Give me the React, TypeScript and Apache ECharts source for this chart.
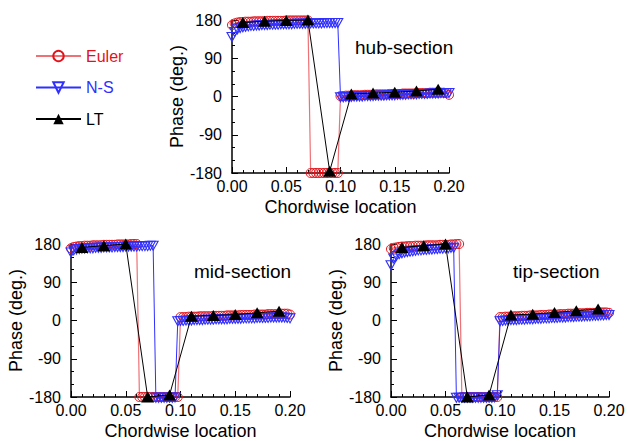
import React, { useEffect, useRef } from 'react';
import * as echarts from 'echarts';

// Shared chordwise stations of the dense Euler / N-S data
const xDense = [
  0, 0.0025, 0.005, 0.0075, 0.01, 0.0125, 0.015, 0.0175, 0.02, 0.0225,
  0.025, 0.0275, 0.03, 0.0325, 0.035, 0.0375, 0.04, 0.0425, 0.045, 0.0475,
  0.05, 0.0525, 0.055, 0.0575, 0.06, 0.0625, 0.065, 0.0675, 0.07, 0.0725,
  0.075, 0.0775, 0.08, 0.0825, 0.085, 0.0875, 0.09, 0.0925, 0.095, 0.0975,
  0.1, 0.1025, 0.105, 0.1075, 0.11, 0.1125, 0.115, 0.1175, 0.12, 0.1225,
  0.125, 0.1275, 0.13, 0.1325, 0.135, 0.1375, 0.14, 0.1425, 0.145, 0.1475,
  0.15, 0.1525, 0.155, 0.1575, 0.16, 0.1625, 0.165, 0.1675, 0.17, 0.1725,
  0.175, 0.1775, 0.18, 0.1825, 0.185, 0.1875, 0.19, 0.1925, 0.195, 0.1975,
  0.2,
];
const xLT = [0.01, 0.03, 0.05, 0.07, 0.09, 0.11, 0.13, 0.15, 0.17, 0.19];

const yTicks = [-180, -90, 0, 90, 180];
const xTicks = [0, 0.05, 0.1, 0.15, 0.2];

// hub-section
const hubEuler = [
  168, 172, 174, 175, 175, 176, 176, 176, 177, 177,
  177, 177, 177, 178, 178, 178, 178, 178, 178, 178,
  179, 179, 179, 179, 179, 179, 179, 179, 179,
  -180, -180, -180, -180, -180, -180, -180, -180, -180, -180, -180,
  1, 1, 2, 2, 2, 3, 3, 3, 3, 4,
  4, 4, 4, 5, 5, 5, 5, 5, 6, 6,
  6, 6, 6, 7, 7, 7, 7, 7, 8, 8,
  8, 8, 8, 9, 9, 9, 9, 9, 9, 8,
  4,
];
const hubNS = [
  140, 152, 158, 161, 163, 164, 165, 166, 166, 167,
  167, 168, 168, 168, 169, 169, 169, 169, 170, 170,
  170, 170, 170, 171, 171, 171, 171, 171, 172, 172,
  172, 172, 172, 172, 173, 173, 173, 173, 173, 173,
  -2, -2, -1, -1, -1, 0, 0, 0, 0, 1,
  1, 1, 1, 2, 2, 2, 2, 3, 3, 3,
  3, 4, 4, 4, 4, 5, 5, 5, 5, 6,
  6, 6, 6, 7, 7, 7, 7, 8, 8, 8,
  8,
];
const hubLT = [174, 177, 179, 180, -176, 6, 8, 10, 13, 17];

// mid-section
const midEuler = [
  170, 173, 174, 175, 175, 176, 176, 176, 177, 177,
  177, 177, 178, 178, 178, 178, 178, 179, 179, 179,
  179, 179, 180, 180, 180,
  -180, -180, -180, -180, -180, -180, -180, -180, -180, -180,
  -180, -180, -180, -180, -180,
  8, 8, 8, 9, 9, 9, 9, 10, 10, 10,
  10, 10, 11, 11, 11, 11, 11, 12, 12, 12,
  12, 12, 13, 13, 13, 13, 13, 14, 14, 14,
  14, 14, 15, 15, 15, 15, 15, 16, 16, 16,
  14,
];
const midNS = [
  160, 165, 167, 168, 169, 169, 170, 170, 170, 171,
  171, 171, 172, 172, 172, 172, 173, 173, 173, 173,
  174, 174, 174, 174, 174, 175, 175, 175, 175, 176,
  176,
  -182, -182, -182, -182, -182, -182, -182, -181,
  -2, -1, -1, 0, 0, 0, 1, 1, 1, 1,
  2, 2, 2, 2, 3, 3, 3, 3, 3, 4,
  4, 4, 4, 4, 5, 5, 5, 5, 5, 6,
  6, 6, 6, 6, 7, 7, 7, 7, 7, 7,
  6, 5,
];
const midLT = [172, 176, 180, -180, -175, 10, 12, 14, 18, 22];

// tip-section
const tipEuler = [
  168, 171, 172, 173, 174, 174, 175, 175, 175, 176,
  176, 176, 176, 177, 177, 177, 177, 177, 178, 178,
  178, 178, 179, 179, 180, 180,
  -180, -180, -180, -180, -180, -180, -180, -180, -180, -180,
  -180, -180, -180, -180,
  8, 8, 9, 9, 9, 10, 10, 10, 11, 11,
  11, 12, 12, 12, 12, 13, 13, 13, 14, 14,
  14, 14, 15, 15, 15, 16, 16, 16, 16, 17,
  17, 17, 18, 18, 18, 18, 19, 19, 19, 19,
  18,
];
const tipNS = [
  130, 146, 152, 156, 158, 160, 161, 162, 163, 164,
  165, 165, 166, 166, 167, 167, 168, 168, 169, 169,
  170, 170, 171, 171,
  -182, -182, -182, -182, -182, -182, -182, -182, -182, -182,
  -182, -182, -182, -182, -181, -176,
  -2, -1, 0, 0, 1, 1, 1, 2, 2, 2,
  3, 3, 3, 4, 4, 4, 5, 5, 5, 6,
  6, 6, 7, 7, 7, 8, 8, 8, 9, 9,
  9, 10, 10, 10, 11, 11, 11, 12, 12, 13,
  13,
];
const tipLT = [172, 176, 180, -180, -175, 13, 15, 19, 23, 27];

const sections = [
  { name: 'hub-section', euler: hubEuler, ns: hubNS, lt: hubLT },
  { name: 'mid-section', euler: midEuler, ns: midNS, lt: midLT },
  { name: 'tip-section', euler: tipEuler, ns: tipNS, lt: tipLT },
];

const FONT = 'Liberation Sans, Arial, Helvetica, sans-serif';
const RED = '#e3121a';
const RED_LINE = 'rgba(227,18,26,0.6)';
const BLUE = '#2f2fff';
const BLACK = '#000000';

const grids = [
  { left: 232, top: 20, width: 217, height: 153 },
  { left: 71, top: 244, width: 219, height: 153 },
  { left: 391, top: 244, width: 218, height: 153 },
];
const labelPos = [
  { x: 355, y: 38 },
  { x: 194, y: 262 },
  { x: 513, y: 262 },
];

function buildOption() {
  const xAxis = grids.map((_, i) => ({
    type: 'value',
    gridIndex: i,
    min: xTicks[0],
    max: xTicks[xTicks.length - 1],
    interval: 0.05,
    name: 'Chordwise location',
    nameLocation: 'middle',
    nameGap: 25,
    nameTextStyle: { fontSize: 18, color: BLACK, fontFamily: FONT },
    axisLine: { show: true, onZero: false, lineStyle: { color: BLACK, width: 1.5 } },
    axisTick: { show: true, inside: true, length: 6, lineStyle: { color: BLACK } },
    minorTick: { show: true, splitNumber: 5, length: 3, lineStyle: { color: BLACK } },
    splitLine: { show: false },
    axisLabel: {
      fontSize: 16,
      color: BLACK,
      fontFamily: FONT,
      margin: 5,
      formatter: (v: number) => v.toFixed(2),
    },
  }));
  const yAxis = grids.map((_, i) => ({
    type: 'value',
    gridIndex: i,
    min: yTicks[0],
    max: yTicks[yTicks.length - 1],
    interval: 90,
    name: 'Phase (deg.)',
    nameLocation: 'middle',
    nameGap: 44,
    nameTextStyle: { fontSize: 18, color: BLACK, fontFamily: FONT },
    axisLine: { show: true, onZero: false, lineStyle: { color: BLACK, width: 1.5 } },
    axisTick: { show: true, inside: true, length: 6, lineStyle: { color: BLACK } },
    minorTick: { show: true, splitNumber: 3, length: 3, lineStyle: { color: BLACK } },
    splitLine: { show: false },
    axisLabel: { fontSize: 16, color: BLACK, fontFamily: FONT, margin: 10 },
  }));

  const series: any[] = [];
  sections.forEach((s, i) => {
    series.push({
      name: 'Euler',
      type: 'line',
      xAxisIndex: i,
      yAxisIndex: i,
      clip: false,
      data: xDense.map((x, k) => [x, s.euler[k]]),
      symbol: 'circle',
      symbolSize: 9,
      showAllSymbol: true,
      lineStyle: { color: RED_LINE, width: 1.2 },
      itemStyle: { color: 'rgba(0,0,0,0)', borderColor: RED, borderWidth: 1 },
      emphasis: { disabled: true },
      z: 2,
    });
    series.push({
      name: 'N-S',
      type: 'line',
      xAxisIndex: i,
      yAxisIndex: i,
      clip: false,
      data: xDense.map((x, k) => [x, s.ns[k]]),
      symbol: 'triangle',
      symbolRotate: 180,
      symbolSize: [10, 9],
      showAllSymbol: true,
      lineStyle: { color: BLUE, width: 1 },
      itemStyle: { color: 'rgba(0,0,0,0)', borderColor: BLUE, borderWidth: 1.1 },
      emphasis: { disabled: true },
      z: 3,
    });
    series.push({
      name: 'LT',
      type: 'line',
      xAxisIndex: i,
      yAxisIndex: i,
      clip: false,
      data: xLT.map((x, k) => [x, s.lt[k]]),
      symbol: 'triangle',
      symbolSize: [13, 11],
      showAllSymbol: true,
      lineStyle: { color: BLACK, width: 1 },
      itemStyle: { color: BLACK, borderColor: BLACK, borderWidth: 0 },
      emphasis: { disabled: true },
      z: 4,
    });
  });

  return {
    animation: false,
    backgroundColor: '#ffffff',
    textStyle: { fontFamily: FONT },
    legend: {
      orient: 'vertical',
      left: 35,
      top: 48,
      padding: 0,
      itemWidth: 45,
      itemHeight: 13,
      itemGap: 15.5,
      textStyle: { fontSize: 16, fontFamily: FONT },
      data: [
        { name: 'Euler', textStyle: { color: RED } },
        { name: 'N-S', textStyle: { color: BLUE } },
        { name: 'LT', textStyle: { color: BLACK } },
      ],
    },
    grid: grids.map((g) => ({ ...g, containLabel: false })),
    xAxis,
    yAxis,
    series,
    graphic: sections.map((s, i) => ({
      type: 'text',
      left: labelPos[i].x,
      top: labelPos[i].y,
      style: { text: s.name, fontSize: 19, fill: BLACK, fontFamily: FONT },
    })),
  };
}

export default function App() {
  const ref = useRef<HTMLDivElement>(null);
  useEffect(() => {
    if (!ref.current) return;
    const chart = echarts.init(ref.current, null, { renderer: 'svg' });
    chart.setOption(buildOption() as any);
    return () => chart.dispose();
  }, []);
  return (
    <div
      ref={ref}
      style={{ position: 'absolute', left: 0, top: 0, width: 628, height: 441, overflow: 'hidden' }}
    />
  );
}
